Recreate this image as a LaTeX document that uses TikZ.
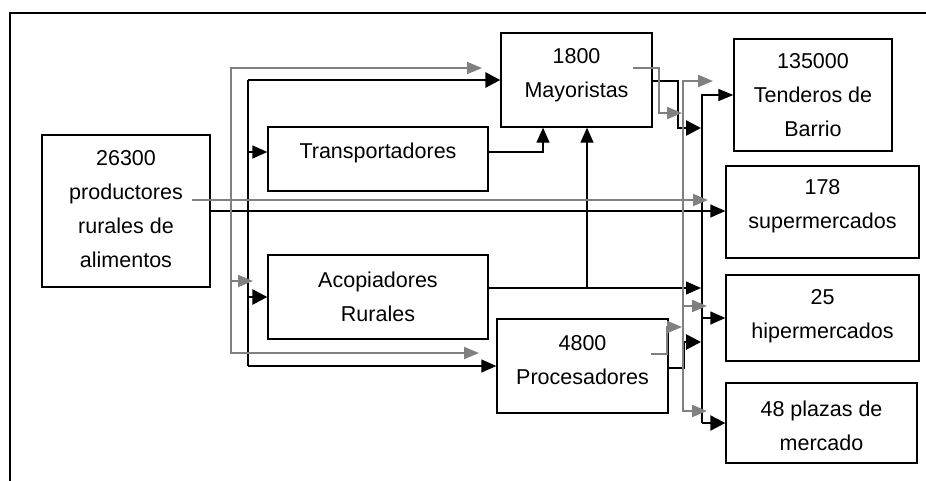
\documentclass[tikz,border=0pt]{standalone}
\usepackage{fontspec}
\setmainfont{Liberation Sans}
\usetikzlibrary{arrows.meta}
\definecolor{lgray}{RGB}{128,128,128}
\begin{document}
\begin{tikzpicture}[x=1pt,y=-1pt,
  box/.style={draw, line width=1.3pt, inner sep=0pt},
  txt/.style={align=center, font=\fontsize{21.5}{34}\selectfont, inner sep=0pt},
  gl/.style={draw=lgray, line width=2pt},
  bl/.style={draw=black, line width=1.3pt},
  bk/.style={draw=black, line width=2.7pt},
  gt/.style={-{Triangle[length=15pt,width=12pt]}},
  gtt/.style={{Triangle[length=15pt,width=12pt]}-{Triangle[length=15pt,width=12pt]}},
  bt/.style={-{Triangle[length=15pt,width=13pt]}},
  kt/.style={-{Triangle[length=15pt,width=15pt]}}
]
\useasboundingbox (0,0) rectangle (926,480);
\clip (0,0) rectangle (926,480);
\draw[line width=1.5pt] (10,500) -- (10,13) -- (940,13);

% boxes
\node[box, minimum width=168pt, minimum height=152pt] (prod) at (126,211) {};
\node[box, minimum width=220pt, minimum height=64pt] (trans) at (378,159) {};
\node[box, minimum width=220pt, minimum height=84pt] (acop) at (378,297) {};
\node[box, minimum width=151pt, minimum height=94pt] (may) at (576.5,80) {};
\node[box, minimum width=171pt, minimum height=94pt] (proc) at (582.5,366) {};
\node[box, minimum width=158pt, minimum height=112pt] (tend) at (813,95) {};
\node[box, minimum width=193pt, minimum height=92pt] (super) at (822.5,212) {};
\node[box, minimum width=193pt, minimum height=86pt] (hiper) at (822.5,318) {};
\node[box, minimum width=191pt, minimum height=80pt] (plaza) at (821.5,423) {};

% texts
\node[txt, yshift=2pt] (prodT) at (prod) {26300\\productores\\rurales de\\alimentos};
\node[txt, yshift=6pt] (transT) at (trans) {Transportadores};
\node[txt] (acopT) at (acop) {Acopiadores\\Rurales};
\node[txt, yshift=5pt] (mayT) at (may) {1800\\Mayoristas};
\node[txt, yshift=6pt] (procT) at (proc) {4800\\Procesadores};
\node[txt] (tendT) at (tend) {135000\\Tenderos de\\Barrio};
\node[txt, yshift=6pt] (superT) at (super) {178\\supermercados};
\node[txt, yshift=2pt] (hiperT) at (hiper) {25\\hipermercados};
\node[txt, yshift=-3pt] (plazaT) at (plaza) {48 plazas de\\mercado};

% black connectors
\draw[bk,kt] (248,80) -- (may.west);
\draw[bl] (248,80) -- (248,366);
\draw[bl,bt] (248,366) -- (proc.west |- 0,366);
\draw[bl,bt] (248,152) -- (trans.west |- 0,152);
\draw[bk,kt] (248,297) -- (acop.west);
\draw[bl,bt] (prod.east) -- (prod.east -| super.west);
\draw[bl,bt] (trans.east |- 0,152) -| (may.south -| 543,0);
\draw[bl,bt] (acop.east |- 0,288) -- (701,288);
\draw[bl,bt] (587,288) -- (may.south -| 587,0);
\draw[bk,kt] (may.east |- 0,81) -- (678,81) -- (678,128) -- (701,128);
\draw[bk,kt] (proc.east |- 0,368) -- (684,368) -- (684,342) -- (701,342);
\draw[bl,{Triangle[length=15pt,width=12pt]}-] (tend.west) -- (702,95) -- (702,423);
\draw[draw=black,line width=2pt,kt] (702,423) -- (plaza.west);
\draw[bl,bt] (702,318) -- (hiper.west);

% gray connectors
\draw[gl,gtt] (482,68) -- (231,68) -- (231,353) -- (479,353);
\draw[gl,gt] (231,281) -- (253,281);
\draw[gl,gt] (192,200) -- (708,200);
\draw[gl,gt] (633,68) -- (659,68) -- (659,113) -- (682,113);
\draw[gl,gtt] (713,81) -- (683,81) -- (683,411) -- (707,411);
\draw[gl,gt] (683,306) -- (707,306);
\draw[gl,gt] (651,354) -- (667,354) -- (667,327) -- (682,327);
\end{tikzpicture}
\end{document}
